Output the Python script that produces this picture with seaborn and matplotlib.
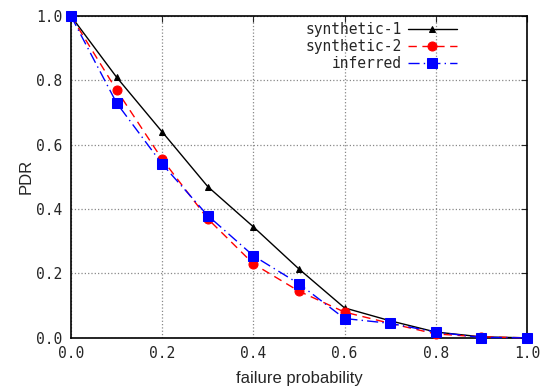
import matplotlib
matplotlib.use("Agg")
import matplotlib.pyplot as plt
import seaborn as sns
import pandas as pd

failure_prob = [0.0, 0.1, 0.2, 0.3, 0.4, 0.5, 0.6, 0.7, 0.8, 0.9, 1.0]
synthetic_1 = [1.0, 0.81, 0.64, 0.47, 0.345, 0.214, 0.093, 0.053, 0.018, 0.003, 0.0]
synthetic_2 = [1.0, 0.77, 0.555, 0.37, 0.23, 0.145, 0.08, 0.045, 0.012, 0.003, 0.0]
inferred = [1.0, 0.73, 0.54, 0.38, 0.255, 0.168, 0.06, 0.045, 0.018, 0.001, 0.0]
series_names = ["synthetic-1", "synthetic-2", "inferred"]
x_ticks = [0.0, 0.2, 0.4, 0.6, 0.8, 1.0]
y_ticks = [0.0, 0.2, 0.4, 0.6, 0.8, 1.0]

rows = []
for name, vals in zip(series_names, [synthetic_1, synthetic_2, inferred]):
    for x, y in zip(failure_prob, vals):
        rows.append({"x": x, "y": y, "series": name})
df = pd.DataFrame(rows)

sns.set_style("white")
plt.rcParams["font.family"] = ["Liberation Sans", "DejaVu Sans"]

fig = plt.figure(figsize=(5.46, 3.91), dpi=100)
ax = fig.add_axes([0.130, 0.136, 0.835, 0.823])

palette = {"synthetic-1": "black", "synthetic-2": "#ff0000", "inferred": "#0000ff"}
markers = {"synthetic-1": "^", "synthetic-2": "o", "inferred": "s"}
dashes = {"synthetic-1": "", "synthetic-2": (6, 4), "inferred": (8, 3, 1, 3)}
sizes_m = {"synthetic-1": 5, "synthetic-2": 6.5, "inferred": 6.5}

for name in series_names:
    sub = df[df["series"] == name]
    ls = "-" if name == "synthetic-1" else (0, dashes[name])
    sns.lineplot(data=sub, x="x", y="y", ax=ax, color=palette[name],
                 marker=markers[name], markersize=sizes_m[name],
                 markeredgecolor=palette[name], linewidth=1.0,
                 linestyle=ls, label=name, clip_on=False, zorder=3)

ax.set_xlim(0, 1)
ax.set_ylim(0, 1)
ax.set_xticks(x_ticks)
ax.set_yticks(y_ticks)
ax.set_xticklabels([f"{t:.1f}" for t in x_ticks], family="DejaVu Sans Mono", fontsize=10.5)
ax.set_yticklabels([f"{t:.1f}" for t in y_ticks], family="DejaVu Sans Mono", fontsize=10.5)
ax.tick_params(direction="in", top=True, right=True, length=4, width=0.8, pad=6)
ax.grid(True, linestyle=":", color="#888888", linewidth=0.9)
for s in ax.spines.values():
    s.set_color("black")
    s.set_linewidth(1.2)
ax.set_xlabel("failure probability", fontsize=12, labelpad=7)
ax.set_ylabel("PDR", fontsize=12, labelpad=2)

leg = ax.legend(loc="upper right", bbox_to_anchor=(0.86, 1.0), frameon=False,
                markerfirst=False,
                prop={"family": "DejaVu Sans Mono", "size": 10.5},
                handlelength=3.4, labelspacing=0.15, borderaxespad=0.0,
                handletextpad=0.4)

fig.savefig("out.png", dpi=100)
